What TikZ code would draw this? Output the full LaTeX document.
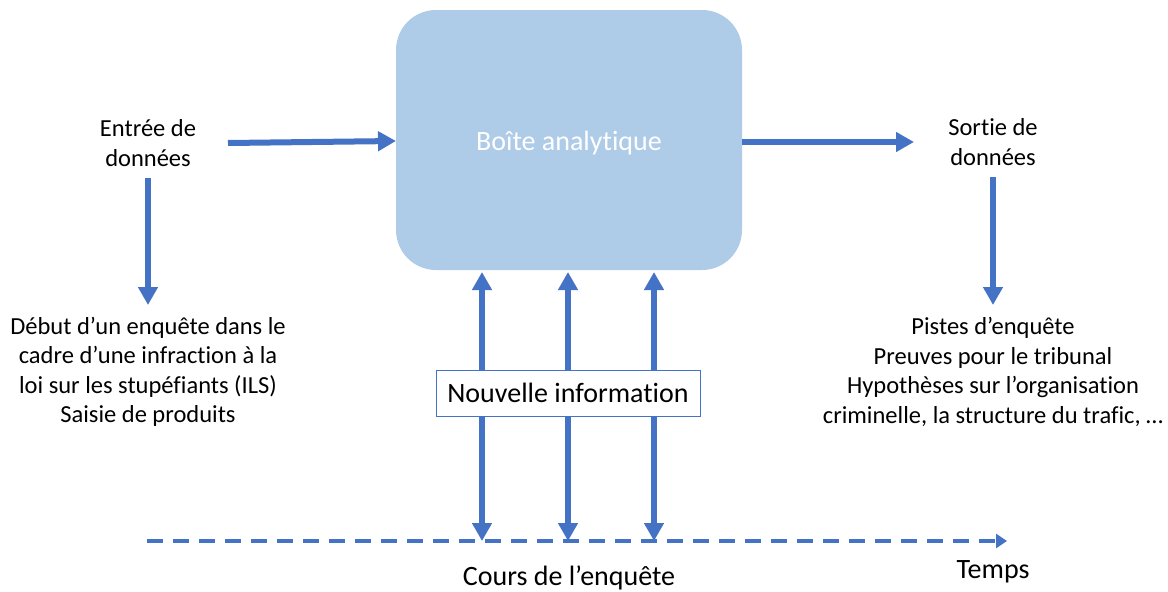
\documentclass[tikz,border=0pt]{standalone}
\usepackage{fontspec}
\setmainfont{Carlito}[Ligatures=NoCommon]
\usetikzlibrary{arrows.meta}
\definecolor{arrowblue}{RGB}{68,114,196}
\definecolor{boxblue}{RGB}{174,203,232}
\tikzset{
  flow/.style={draw=arrowblue, line width=6pt, -{Triangle[length=18pt,width=19pt]}},
  both/.style={draw=arrowblue, line width=6pt, {Triangle[length=18pt,width=19pt]}-{Triangle[length=18pt,width=19pt]}},
  lbl/.style={align=center, font=\fontsize{24.5}{29.5}\selectfont, inner sep=0pt},
  big/.style={font=\fontsize{28}{32}\selectfont, inner sep=0pt},
}
\begin{document}
\begin{tikzpicture}[x=1pt,y=-1pt]
\useasboundingbox (0,0) rectangle (1168,592);
\node[fill=boxblue, rounded corners=40pt, minimum width=346pt, minimum height=260pt, inner sep=0pt] (box) at (569,140) {};
\node[big, text=white] (boxlbl) at (569,143) {Boîte analytique};

\node[lbl] (in) at (148,143) {Entrée de\\données};
\node[lbl] (out) at (993,142) {Sortie de\\données};
\node[lbl] (intxt) at (148,372) {Début d’un enquête dans le\\cadre d’une infraction à la\\loi sur les stupéfiants (ILS)\\Saisie de produits};
\node[lbl] (outtxt) at (993,372) {Pistes d’enquête\\Preuves pour le tribunal\\Hypothèses sur l’organisation\\criminelle, la structure du trafic, …};

\coordinate (inA) at (228,143);
\coordinate (inB) at (396,141);
\draw[flow] (inA) -- (inB);
\coordinate (outA) at (742,142);
\coordinate (outB) at (914,142);
\draw[flow] (outA) -- (outB);
\coordinate (inD1) at (148,178);
\coordinate (inD2) at (148,305);
\draw[flow] (inD1) -- (inD2);
\coordinate (outD1) at (993,177);
\coordinate (outD2) at (993,305);
\draw[flow] (outD1) -- (outD2);

% time line
\coordinate (t0) at (147,541);
\coordinate (t1) at (1007,541);
\draw[draw=arrowblue, line width=4pt, dash pattern=on 16pt off 10pt, -{Triangle[length=11pt,width=14pt]}] (t0) -- (t1);

\foreach \x/\n in {482/a,568/b,654/c}{
  \coordinate (top\n) at (\x,272);
  \coordinate (bot\n) at (\x,541);
  \draw[both] (top\n) -- (bot\n);
}
\node[draw=arrowblue, line width=1pt, fill=white, minimum width=264pt, minimum height=46pt, inner sep=0pt,
      font=\fontsize{28}{32}\selectfont] (ni) at (568,393) {Nouvelle information};

\node[big] (temps) at (993,572) {Temps};
\node[big] (cours) at (569,578) {Cours de l’enquête};
\end{tikzpicture}
\end{document}
